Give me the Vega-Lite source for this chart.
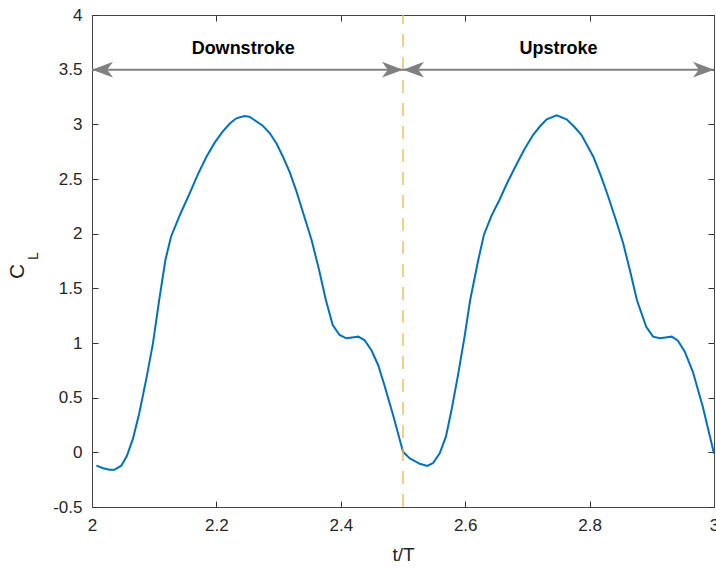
{
  "$schema": "https://vega.github.io/schema/vega-lite/v6.json",
  "width": 622,
  "height": 492,
  "autosize": {"type": "none"},
  "padding": {"left": 92, "top": 15, "right": 2, "bottom": 61},
  "background": "white",
  "config": {
    "view": {"stroke": null},
    "font": "Liberation Sans",
    "axis": {
      "grid": false,
      "domainColor": "#444444",
      "domainWidth": 1,
      "tickColor": "#333333",
      "tickWidth": 1,
      "tickSize": -6,
      "labelFont": "Liberation Sans",
      "labelFontSize": 17,
      "labelColor": "#262626",
      "labelPadding": 16,
      "labelFlush": false,
      "labelOverlap": false,
      "titleFont": "Liberation Sans",
      "titleFontSize": 19,
      "titleFontWeight": "normal",
      "titleColor": "#262626"
    }
  },
  "datasets": {
    "lift": [
      {"t": 2.007, "cl": -0.122}, {"t": 2.018, "cl": -0.145}, {"t": 2.028, "cl": -0.16},
      {"t": 2.036, "cl": -0.16}, {"t": 2.047, "cl": -0.122}, {"t": 2.056, "cl": -0.034},
      {"t": 2.066, "cl": 0.128}, {"t": 2.076, "cl": 0.357}, {"t": 2.088, "cl": 0.692},
      {"t": 2.098, "cl": 0.997}, {"t": 2.108, "cl": 1.393}, {"t": 2.118, "cl": 1.759},
      {"t": 2.127, "cl": 1.972}, {"t": 2.142, "cl": 2.18}, {"t": 2.157, "cl": 2.369},
      {"t": 2.17, "cl": 2.54}, {"t": 2.184, "cl": 2.704}, {"t": 2.197, "cl": 2.83},
      {"t": 2.21, "cl": 2.933}, {"t": 2.222, "cl": 3.01}, {"t": 2.232, "cl": 3.055},
      {"t": 2.245, "cl": 3.076}, {"t": 2.253, "cl": 3.07}, {"t": 2.261, "cl": 3.04},
      {"t": 2.274, "cl": 2.99}, {"t": 2.286, "cl": 2.918}, {"t": 2.297, "cl": 2.82},
      {"t": 2.307, "cl": 2.704}, {"t": 2.318, "cl": 2.56}, {"t": 2.328, "cl": 2.399},
      {"t": 2.34, "cl": 2.18}, {"t": 2.353, "cl": 1.942}, {"t": 2.365, "cl": 1.67},
      {"t": 2.376, "cl": 1.393}, {"t": 2.387, "cl": 1.165}, {"t": 2.398, "cl": 1.073},
      {"t": 2.409, "cl": 1.043}, {"t": 2.418, "cl": 1.05}, {"t": 2.428, "cl": 1.058},
      {"t": 2.438, "cl": 1.027}, {"t": 2.449, "cl": 0.936}, {"t": 2.46, "cl": 0.799},
      {"t": 2.47, "cl": 0.616}, {"t": 2.484, "cl": 0.341}, {"t": 2.5, "cl": 0.006},
      {"t": 2.511, "cl": -0.055}, {"t": 2.527, "cl": -0.105}, {"t": 2.539, "cl": -0.125},
      {"t": 2.548, "cl": -0.1}, {"t": 2.559, "cl": -0.009}, {"t": 2.569, "cl": 0.143},
      {"t": 2.578, "cl": 0.387}, {"t": 2.588, "cl": 0.692}, {"t": 2.599, "cl": 1.058},
      {"t": 2.608, "cl": 1.393}, {"t": 2.621, "cl": 1.759}, {"t": 2.63, "cl": 1.988},
      {"t": 2.642, "cl": 2.16}, {"t": 2.655, "cl": 2.308}, {"t": 2.668, "cl": 2.47},
      {"t": 2.682, "cl": 2.628}, {"t": 2.695, "cl": 2.77}, {"t": 2.709, "cl": 2.902},
      {"t": 2.72, "cl": 2.98}, {"t": 2.731, "cl": 3.046}, {"t": 2.747, "cl": 3.082},
      {"t": 2.763, "cl": 3.046}, {"t": 2.775, "cl": 2.98}, {"t": 2.787, "cl": 2.902},
      {"t": 2.806, "cl": 2.704}, {"t": 2.818, "cl": 2.53}, {"t": 2.83, "cl": 2.338},
      {"t": 2.842, "cl": 2.13}, {"t": 2.854, "cl": 1.912}, {"t": 2.865, "cl": 1.66},
      {"t": 2.876, "cl": 1.393}, {"t": 2.891, "cl": 1.149}, {"t": 2.902, "cl": 1.058},
      {"t": 2.913, "cl": 1.043}, {"t": 2.922, "cl": 1.05}, {"t": 2.932, "cl": 1.058},
      {"t": 2.942, "cl": 1.021}, {"t": 2.953, "cl": 0.92}, {"t": 2.966, "cl": 0.737},
      {"t": 2.982, "cl": 0.417}, {"t": 3.0, "cl": -0.01}
    ],
    "divider": [{"t": 2.5, "lo": -0.5, "hi": 4}],
    "spans": [
      {"phase": "Downstroke", "start": 2.0, "end": 2.5, "level": 3.5, "mid": 2.243, "labelLevel": 3.69},
      {"phase": "Upstroke", "start": 2.5, "end": 3.0, "level": 3.5, "mid": 2.75, "labelLevel": 3.69}
    ],
    "heads": [
      {"t": 2.0, "level": 3.5, "dir": "left"},
      {"t": 2.5, "level": 3.5, "dir": "right"},
      {"t": 2.5, "level": 3.5, "dir": "left"},
      {"t": 3.0, "level": 3.5, "dir": "right"}
    ],
    "ytitle": [
      {"part": "C", "t": 1.881, "v": 1.655, "size": 21},
      {"part": "L", "t": 1.907, "v": 1.795, "size": 14}
    ]
  },
  "resolve": {"axis": {"x": "independent", "y": "independent"}},
  "layer": [
    {
      "data": {"name": "lift"},
      "mark": {"type": "line", "color": "#0072BD", "strokeWidth": 2, "clip": false},
      "encoding": {
        "x": {
          "field": "t", "type": "quantitative",
          "scale": {"domain": [2, 3], "nice": false, "zero": false},
          "axis": {
            "orient": "bottom",
            "values": [2, 2.2, 2.4, 2.6, 2.8, 3],
            "labelExpr": "'' + datum.value",
            "title": "t/T",
            "titleY": 47,
            "titleBaseline": "middle"
          }
        },
        "y": {
          "field": "cl", "type": "quantitative",
          "scale": {"domain": [-0.5, 4], "nice": false, "zero": false},
          "axis": {
            "orient": "left",
            "values": [-0.5, 0, 0.5, 1, 1.5, 2, 2.5, 3, 3.5, 4],
            "labelExpr": "'' + datum.value",
            "title": null
          }
        }
      }
    },
    {
      "data": {"name": "divider"},
      "mark": {"type": "rule", "color": "#F0B545", "strokeWidth": 1.3, "strokeDash": [13, 10]},
      "encoding": {
        "x": {
          "field": "t", "type": "quantitative",
          "axis": {"orient": "top", "values": [2, 2.2, 2.4, 2.6, 2.8, 3], "labels": false, "title": null}
        },
        "y": {
          "field": "lo", "type": "quantitative",
          "axis": {"orient": "right", "values": [-0.5, 0, 0.5, 1, 1.5, 2, 2.5, 3, 3.5, 4], "labels": false, "title": null}
        },
        "y2": {"field": "hi"}
      }
    },
    {
      "data": {"name": "spans"},
      "mark": {"type": "rule", "color": "#808080", "strokeWidth": 2},
      "encoding": {
        "x": {"field": "start", "type": "quantitative", "axis": null},
        "x2": {"field": "end"},
        "y": {"field": "level", "type": "quantitative", "axis": null}
      }
    },
    {
      "data": {"name": "heads"},
      "mark": {"type": "point", "filled": true, "color": "#808080", "opacity": 1, "size": 441, "strokeWidth": 0},
      "encoding": {
        "x": {"field": "t", "type": "quantitative", "axis": null},
        "y": {"field": "level", "type": "quantitative", "axis": null},
        "shape": {
          "field": "dir", "type": "nominal", "legend": null,
          "scale": {
            "domain": ["left", "right"],
            "range": ["M0,0L2,-0.75L1.45,0L2,0.75Z", "M0,0L-2,-0.75L-1.45,0L-2,0.75Z"]
          }
        }
      }
    },
    {
      "data": {"name": "spans"},
      "mark": {"type": "text", "font": "Liberation Sans", "fontWeight": "bold", "fontSize": 18, "color": "#000000", "align": "center", "baseline": "middle"},
      "encoding": {
        "x": {"field": "mid", "type": "quantitative", "axis": null},
        "y": {"field": "labelLevel", "type": "quantitative", "axis": null},
        "text": {"field": "phase"}
      }
    },
    {
      "data": {"name": "ytitle"},
      "mark": {"type": "text", "font": "Liberation Sans", "color": "#262626", "angle": 270, "align": "center", "baseline": "middle", "clip": false},
      "encoding": {
        "x": {"field": "t", "type": "quantitative", "axis": null},
        "y": {"field": "v", "type": "quantitative", "axis": null},
        "text": {"field": "part"},
        "size": {"field": "size", "type": "quantitative", "scale": null, "legend": null}
      }
    }
  ]
}
